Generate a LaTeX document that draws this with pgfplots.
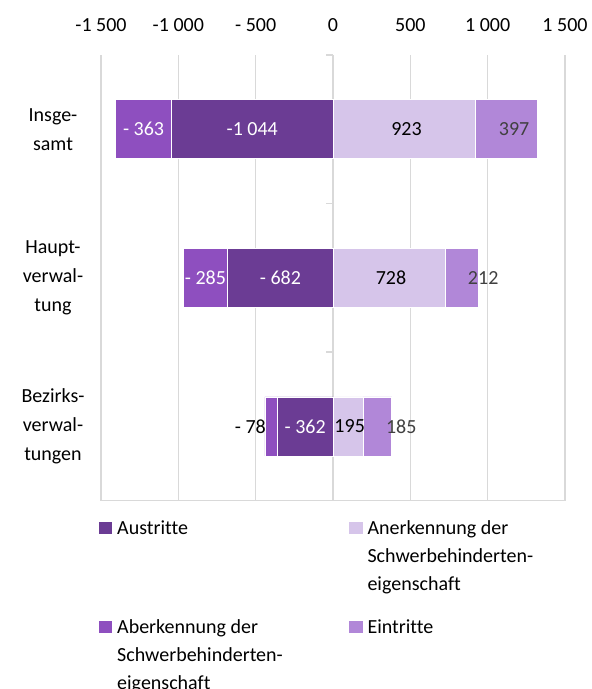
\documentclass[border=0pt]{standalone}
\usepackage{pgfplots}
\pgfplotsset{compat=1.18}
\usepackage{fontspec}
\setmainfont{Carlito}[Ligatures=NoCommon]
\definecolor{cAus}{RGB}{107,60,148}
\definecolor{cAbe}{RGB}{142,79,191}
\definecolor{cAne}{RGB}{214,197,234}
\definecolor{cEin}{RGB}{177,135,216}
\definecolor{cGrid}{RGB}{217,217,217}
\definecolor{cLab}{RGB}{64,64,64}
\pgfplotsset{
  base/.style={
    scale only axis, width=464pt, height=445.7pt,
    xmin=-1500, xmax=1500, ymin=-0.5, ymax=2.5, y dir=reverse,
    at={(0,0)}, anchor=south west, clip=false,
  },
  barstyle/.style={draw=white, line width=0.6pt},
  lab/.style={only marks, mark=*, mark size=0pt, mark options={draw=none, fill=none},
    nodes near coords, point meta=explicit symbolic, nodes near coords align=center,
    every node near coord/.append style={anchor=center, text=#1, font=\fontsize{20}{24}\selectfont}},
}
\newcommand{\legitem}[4]{%
  \fill[#3] (#1-2pt,#2-0.3pt) rectangle (#1+11.3pt,#2+12.3pt);
  \node[anchor=base west, inner sep=0pt, font=\fontsize{20}{28}\selectfont] at (#1+16pt,#2) {\parbox[t]{230pt}{#4}};
}
\begin{document}
\begin{tikzpicture}[font=\fontsize{20}{28}\selectfont]
\path[use as bounding box] (-101pt,-188.3pt) rectangle (491pt,500.7pt);
% axis 1: grid, ticks, negative bars
\begin{axis}[base,
  axis line style={draw=none}, major tick length=0pt,
  xbar stacked, bar width=59pt,
  xmajorgrids, grid style={cGrid, line width=1.5pt},
  xtick={-1500,-1000,-500,0,500,1000,1500},
  xticklabel pos=upper,
  xticklabels={-1 500,-1 000,- 500,0,500,1 000,1 500},
  xticklabel style={anchor=base, yshift=23.3pt, font=\fontsize{20}{24}\selectfont},
  ytick={0,1,2},
  yticklabels={Insge-\\samt, Haupt-\\verwal-\\tung, Bezirks-\\verwal-\\tungen},
  yticklabel style={align=center, anchor=center, xshift=-48pt, font=\fontsize{20}{29}\selectfont},
]
\addplot[barstyle, fill=cAus] coordinates {(-1044,0) (-682,1) (-362,2)};
\addplot[barstyle, fill=cAbe] coordinates {(-363,0) (-285,1) (-78,2)};
\draw[cGrid, line width=1.5pt] (axis cs:-1500,2.5) -- (axis cs:1500,2.5);
\draw[cGrid, line width=1.5pt] (axis cs:0,-0.5) -- ++(-7pt,0pt);
\draw[cGrid, line width=1.5pt] (axis cs:0,0.5) -- ++(-7pt,0pt);
\draw[cGrid, line width=1.5pt] (axis cs:0,1.5) -- ++(-7pt,0pt);
\end{axis}
% axis 2: positive bars
\begin{axis}[base, hide axis, xbar stacked, bar width=59pt]
\addplot[barstyle, fill=cAne] coordinates {(923,0) (728,1) (195,2)};
\addplot[barstyle, fill=cEin] coordinates {(397,0) (212,1) (185,2)};
\end{axis}
% axis 3: value labels
\begin{axis}[base, hide axis]
\addplot[lab=white] table[col sep=comma, meta=l] {
x,y,l
-1225,0,- 363
-522,0,-1 044
-825,1,- 285
-340,1,- 682
-180,2,- 362
};
\addplot[lab=black] table[col sep=comma, meta=l] {
x,y,l
475,0,923
375,1,728
108,2,195
-534,2,- 78
};
\addplot[lab=cLab] table[col sep=comma, meta=l] {
x,y,l
1171,0,397
971,1,212
441,2,185
};
\end{axis}
% legend
\legitem{0pt}{-33.3pt}{cAus}{Austritte}
\legitem{250.3pt}{-33.3pt}{cAne}{Anerkennung der\\Schwerbehinderten-\\eigenschaft}
\legitem{0pt}{-132.3pt}{cAbe}{Aberkennung der\\Schwerbehinderten-\\eigenschaft}
\legitem{250.3pt}{-132.3pt}{cEin}{Eintritte}
\end{tikzpicture}
\end{document}
